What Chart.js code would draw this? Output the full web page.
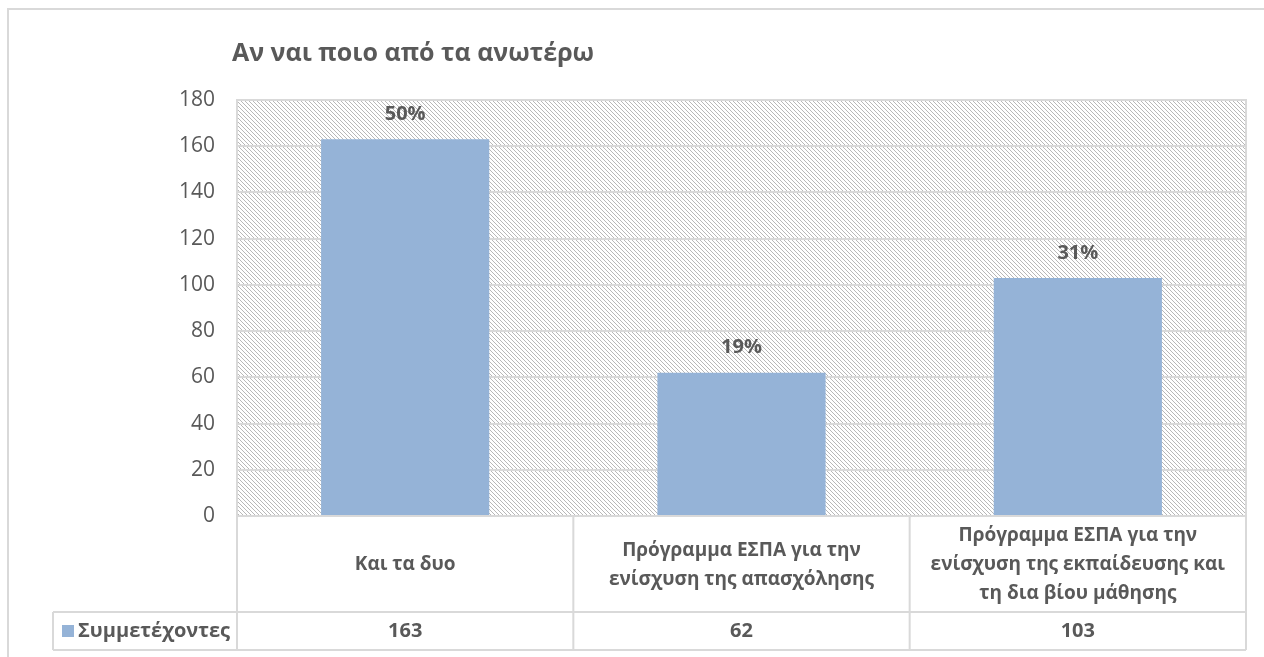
<!DOCTYPE html>
<html><head><meta charset="utf-8">
<script src="https://cdn.jsdelivr.net/npm/chart.js@4.4.1/dist/chart.umd.min.js"></script>
<style>html,body{margin:0;padding:0;background:#fff;overflow:hidden}#wrap{width:1264px;height:657px;position:relative}</style>
</head><body><div id="wrap"><canvas id="c" width="1264" height="657"></canvas></div>
<script>
const chartTitle = 'Αν ναι ποιο από τα ανωτέρω';
const seriesName = 'Συμμετέχοντες';
const categories = [
  ['Και τα δυο'],
  ['Πρόγραμμα ΕΣΠΑ για την', 'ενίσχυση της απασχόλησης'],
  ['Πρόγραμμα ΕΣΠΑ για την', 'ενίσχυση της εκπαίδευσης και', 'τη δια βίου μάθησης']
];
const values = [163, 62, 103];
const percentLabels = ['50%', '19%', '31%'];
const yMin = 0, yMax = 180, yStep = 20;

const FONT = "'Open Sans', 'Noto Sans', sans-serif";
const TEXT = '#595959';
const LINE = '#d9d9d9';
const BAR = '#95B3D7';

function makeHatch() {
  const p = document.createElement('canvas');
  p.width = 4; p.height = 4;
  const g = p.getContext('2d');
  g.fillStyle = '#ffffff'; g.fillRect(0, 0, 4, 4);
  g.fillStyle = '#b8b8b8';
  for (let i = 0; i < 4; i++) g.fillRect(i, i, 1, 1);
  return p;
}

const decor = {
  id: 'decor',
  beforeDraw(chart) {
    const ctx = chart.ctx, a = chart.chartArea;
    ctx.save();
    ctx.fillStyle = '#fff';
    ctx.fillRect(0, 0, chart.width, chart.height);
    ctx.strokeStyle = LINE; ctx.lineWidth = 2;
    ctx.beginPath();
    ctx.moveTo(8, chart.height + 2); ctx.lineTo(8, 9); ctx.lineTo(chart.width + 2, 9);
    ctx.stroke();
    ctx.fillStyle = ctx.createPattern(makeHatch(), 'repeat');
    ctx.fillRect(a.left, a.top, a.right - a.left, a.bottom - a.top);
    ctx.restore();
  },
  afterDatasetsDraw(chart) {
    const ctx = chart.ctx, a = chart.chartArea;
    const meta = chart.getDatasetMeta(0);
    ctx.save();
    ctx.strokeStyle = LINE; ctx.lineWidth = 2;
    ctx.strokeRect(a.left, a.top, a.right - a.left, a.bottom - a.top);
    // data labels
    ctx.fillStyle = TEXT;
    ctx.font = "bold 20px " + FONT;
    ctx.textAlign = 'center'; ctx.textBaseline = 'middle';
    meta.data.forEach((bar, i) => {
      ctx.fillText(percentLabels[i], bar.x, bar.y - 25);
    });
    // title
    ctx.font = "bold 25px " + FONT;
    ctx.textAlign = 'left';
    ctx.fillText(chartTitle, 232, 54);
    // data table
    const top = a.bottom, rowMid = 612, rowBot = 650, legLeft = 53;
    const n = categories.length;
    const cw = (a.right - a.left) / n;
    ctx.strokeStyle = LINE; ctx.lineWidth = 2;
    ctx.beginPath();
    ctx.moveTo(a.left, top); ctx.lineTo(a.right, top);
    ctx.moveTo(legLeft, rowMid); ctx.lineTo(a.right, rowMid);
    ctx.moveTo(legLeft, rowBot); ctx.lineTo(a.right, rowBot);
    ctx.moveTo(legLeft, rowMid); ctx.lineTo(legLeft, rowBot);
    for (let i = 0; i <= n; i++) {
      const x = a.left + i * cw;
      ctx.moveTo(x, top); ctx.lineTo(x, rowBot);
    }
    ctx.stroke();
    const xs = chart.scales.x;
    ctx.textAlign = 'center'; ctx.textBaseline = 'middle';
    const lh = 29, cy = (top + rowMid) / 2 + 1;
    categories.forEach((lines, i) => {
      const x = xs.getPixelForValue(i);
      ctx.font = "bold 19px " + FONT;
      lines.forEach((t, j) => {
        ctx.fillText(t, x, cy + (j - (lines.length - 1) / 2) * lh);
      });
      ctx.font = "bold 20px " + FONT;
      ctx.fillText(String(values[i]), x, (rowMid + rowBot) / 2);
    });
    // legend key
    const vy = (rowMid + rowBot) / 2;
    ctx.fillStyle = BAR;
    ctx.fillRect(62, vy - 6, 12, 12);
    ctx.fillStyle = TEXT;
    ctx.textAlign = 'left';
    ctx.font = "bold 20px " + FONT;
    ctx.fillText(seriesName, 78, vy);
    ctx.restore();
  }
};

new Chart(document.getElementById('c'), {
  type: 'bar',
  data: {
    labels: categories,
    datasets: [{
      label: seriesName,
      data: values,
      backgroundColor: BAR,
      borderWidth: 0,
      barPercentage: 0.5,
      categoryPercentage: 1.0
    }]
  },
  options: {
    responsive: false,
    animation: false,
    layout: { padding: { left: 0, right: 18, top: 100, bottom: 141 } },
    plugins: { legend: { display: false }, title: { display: false }, tooltip: { enabled: false } },
    scales: {
      x: { display: false },
      y: {
        min: yMin, max: yMax,
        ticks: { stepSize: yStep, color: TEXT, font: { family: FONT, size: 21 }, padding: 22 },
        grid: { color: LINE, lineWidth: 2, drawTicks: false },
        border: { display: false },
        afterFit(s) { s.width = 237; }
      }
    }
  },
  plugins: [decor]
});
</script></body></html>
